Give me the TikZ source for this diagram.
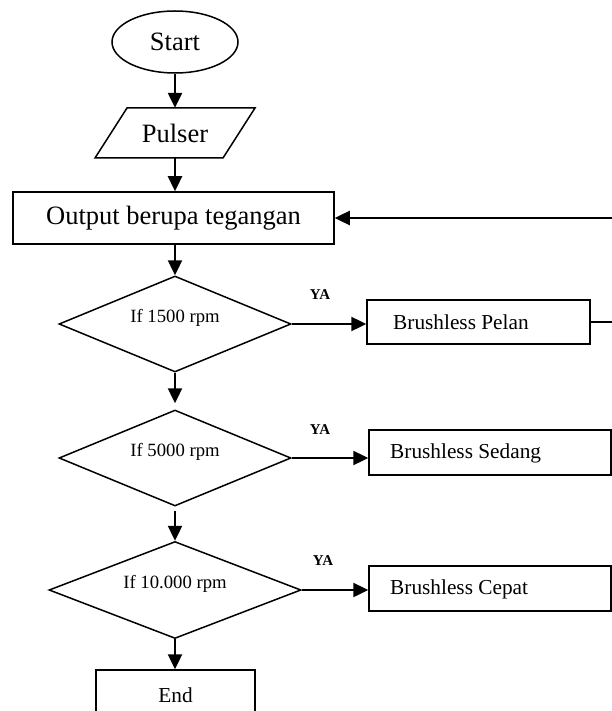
\documentclass[tikz,border=0pt]{standalone}
\usepackage{fontspec}
\setmainfont{Liberation Serif}
\usetikzlibrary{shapes.geometric,arrows.meta}
\begin{document}
\begin{tikzpicture}[x=1pt,y=-1pt,
  shp/.style={draw,line width=1.5pt},
  conn/.style={line width=2.4pt,-{Triangle[length=15pt,width=14pt]}},
  plain/.style={line width=1.6pt},
  txt/.style={inner sep=0pt},
  big/.style={font=\fontsize{26.5}{28}\selectfont},
  mid/.style={font=\fontsize{21.3}{24}\selectfont},
  small/.style={font=\fontsize{18.7}{21}\selectfont},
  ya/.style={font=\fontsize{15}{17}\selectfont\bfseries}]
\useasboundingbox (0,0) rectangle (612,711);
\clip (0,0) rectangle (612,711);
% main column
\node[shp, ellipse, minimum width=126pt, minimum height=62pt, inner sep=0pt, big] (start) at (175,42) {Start};
\node[txt, minimum width=128pt, minimum height=50pt, big] (pulser) at (175,133) {Pulser};
\draw[shp] (95,158) -- (127,108) -- (255,108) -- (223,158) -- cycle;
\node[shp, rectangle, minimum width=321pt, minimum height=52pt, inner sep=0pt, big] (output) at (173.5,218) {Output berupa tegangan};
\node[shp, diamond, aspect=2.42, minimum width=232pt, minimum height=96pt, inner sep=0pt] (d1) at (175,324) {};
\node[txt, small] (t1) at (175,318) {If 1500 rpm};
\node[shp, diamond, aspect=2.42, minimum width=232pt, minimum height=96pt, inner sep=0pt] (d2) at (175,458) {};
\node[txt, small] (t2) at (175,452) {If 5000 rpm};
\node[shp, diamond, aspect=2.6, minimum width=252pt, minimum height=97pt, inner sep=0pt] (d3) at (175,590) {};
\node[txt, small] (t3) at (175,584) {If 10.000 rpm};
\node[shp, rectangle, minimum width=159pt, minimum height=50pt, inner sep=0pt, mid] (endn) at (175.5,695) {End};
% right boxes
\node[shp, rectangle, minimum width=223pt, minimum height=44pt, inner sep=0pt] (pelan) at (478.5,322) {};
\node[txt, mid, anchor=west] (pelant) at (393,322) {Brushless Pelan};
\node[shp, rectangle, minimum width=242pt, minimum height=45pt, inner sep=0pt] (sedang) at (490,452.5) {};
\node[txt, mid, anchor=west] (sedangt) at (390,453) {Brushless Sedang};
\node[shp, rectangle, minimum width=242pt, minimum height=45pt, inner sep=0pt] (cepat) at (490,588.5) {};
\node[txt, mid, anchor=west] (cepatt) at (390,589) {Brushless Cepat};
% YA labels
\node[txt, ya] (ya1) at (320,295) {YA};
\node[txt, ya] (ya2) at (320,430) {YA};
\node[txt, ya] (ya3) at (323,561) {YA};
% connectors
\draw[conn] (start.south) -- (pulser.north);
\draw[conn] (pulser.south) -- (pulser.south |- output.north);
\draw[conn] (d1.north |- output.south) -- (d1.north);
\draw[conn, shorten >=6pt] (d1.south) -- (d2.north);
\draw[conn, shorten <=4pt] (d2.south) -- (d3.north);
\draw[conn] (d3.south) -- (d3.south |- endn.north);
\draw[conn] (d1.east) -- (d1.east -| pelan.west);
\draw[conn] (d2.east) -- (d2.east -| sedang.west);
\draw[conn] (d3.east) -- (d3.east -| cepat.west);
\coordinate (fb) at (620,218);
\draw[conn] (fb) -- (output.east);
\coordinate (p1) at (620,322);
\coordinate (s1) at (620,453);
\coordinate (c1) at (620,589);
\draw[plain] (pelan.east) -- (p1);
\draw[plain] (sedang.east) -- (s1);
\draw[plain] (cepat.east) -- (c1);
\end{tikzpicture}
\end{document}
